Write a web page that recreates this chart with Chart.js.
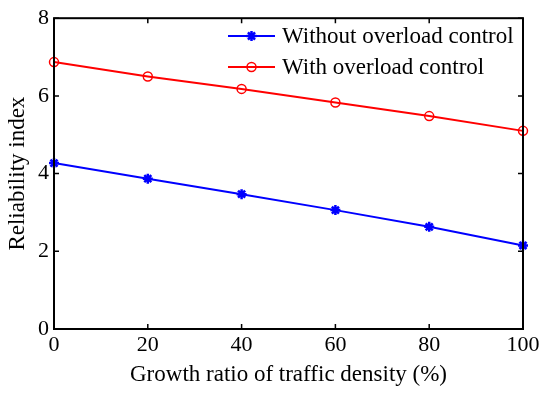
<!DOCTYPE html>
<html>
<head>
<meta charset="utf-8">
<script src="https://cdn.jsdelivr.net/npm/chart.js@4"></script>
<style>
  html, body { margin: 0; padding: 0; background: #fff; }
  #wrap { width: 550px; height: 395px; }
</style>
</head>
<body>
<div id="wrap"><canvas id="reliabilityChart" width="550" height="395"></canvas></div>
<script>
// data
var growthRatio = [0, 20, 40, 60, 80, 100];
var withoutControl = [4.27, 3.87, 3.47, 3.06, 2.63, 2.15];
var withControl = [6.87, 6.50, 6.18, 5.83, 5.48, 5.10];
var xTicks = [0, 20, 40, 60, 80, 100];
var yTicks = [0, 2, 4, 6, 8];

var FONT = '"Liberation Serif", "Times New Roman", serif';

function toPoints(xs, ys) {
    return xs.map(function(x, i) { return { x: x, y: ys[i] }; });
}

// MATLAB style box, inward ticks and legend
var matlabFrame = {
    id: 'matlabFrame',
    afterDraw: function(chart) {
        var ctx = chart.ctx;
        var a = chart.chartArea;
        var xs = chart.scales.x, ys = chart.scales.y;
        ctx.save();
        ctx.strokeStyle = '#000';
        ctx.lineWidth = 2;
        ctx.strokeRect(a.left, a.top, a.right - a.left, a.bottom - a.top);
        ctx.lineWidth = 1.5;
        ctx.beginPath();
        xTicks.forEach(function(v) {
            var px = xs.getPixelForValue(v);
            ctx.moveTo(px, a.bottom); ctx.lineTo(px, a.bottom - 5);
            ctx.moveTo(px, a.top); ctx.lineTo(px, a.top + 5);
        });
        yTicks.forEach(function(v) {
            var py = ys.getPixelForValue(v);
            ctx.moveTo(a.left, py); ctx.lineTo(a.left + 5, py);
            ctx.moveTo(a.right, py); ctx.lineTo(a.right - 5, py);
        });
        ctx.stroke();

        // legend
        var items = chart.data.datasets;
        var lx0 = 228, lx1 = 275, tx = 282;
        var rows = [36, 67];
        ctx.font = '23px ' + FONT;
        ctx.textBaseline = 'middle';
        ctx.textAlign = 'left';
        items.forEach(function(ds, i) {
            var y = rows[i];
            ctx.strokeStyle = ds.borderColor;
            ctx.lineWidth = 2;
            ctx.beginPath();
            ctx.moveTo(lx0, y); ctx.lineTo(lx1, y);
            ctx.stroke();
            ctx.fillStyle = ds.backgroundColor;
            ctx.strokeStyle = ds.pointBorderColor;
            ctx.lineWidth = ds.pointBorderWidth;
            Chart.helpers.drawPoint(ctx, {
                pointStyle: ds.pointStyle,
                radius: ds.pointRadius,
                borderWidth: ds.pointBorderWidth
            }, (lx0 + lx1) / 2, y);
            ctx.fillStyle = '#000';
            ctx.fillText(ds.label, tx, y + 1);
        });
        ctx.restore();
    }
};

document.addEventListener('DOMContentLoaded', function() {
    var canvas = document.getElementById('reliabilityChart');
    var ctx = canvas.getContext('2d');
    new Chart(ctx, {
        type: 'line',
        data: {
            datasets: [{
                label: 'Without overload control',
                data: toPoints(growthRatio, withoutControl),
                borderColor: 'rgb(0, 0, 255)',
                backgroundColor: 'rgb(0, 0, 255)',
                pointBorderColor: 'rgb(0, 0, 255)',
                borderWidth: 2,
                pointStyle: 'star',
                pointRadius: 5,
                pointBorderWidth: 2.5
            }, {
                label: 'With overload control',
                data: toPoints(growthRatio, withControl),
                borderColor: 'rgb(255, 0, 0)',
                backgroundColor: 'rgba(0, 0, 0, 0)',
                pointBorderColor: 'rgb(255, 0, 0)',
                borderWidth: 2,
                pointStyle: 'circle',
                pointRadius: 4.5,
                pointBorderWidth: 1.5
            }]
        },
        options: {
            responsive: false,
            animation: false,
            clip: false,
            layout: { padding: { top: 13, right: 27, left: 0, bottom: 0 } },
            plugins: {
                legend: { display: false },
                tooltip: { enabled: false }
            },
            scales: {
                x: {
                    type: 'linear',
                    min: 0,
                    max: 100,
                    afterBuildTicks: function(scale) {
                        scale.ticks = xTicks.map(function(v) { return { value: v }; });
                    },
                    afterFit: function(scale) { scale.height = 66; },
                    grid: { display: false, drawTicks: false },
                    border: { display: false },
                    ticks: {
                        color: '#000',
                        padding: 3,
                        maxRotation: 0,
                        font: { family: FONT, size: 22 }
                    },
                    title: {
                        display: true,
                        text: 'Growth ratio of traffic density (%)',
                        color: '#000',
                        padding: { top: 0, bottom: 6 },
                        font: { family: FONT, size: 23 }
                    }
                },
                y: {
                    type: 'linear',
                    min: 0,
                    max: 8,
                    afterBuildTicks: function(scale) {
                        scale.ticks = yTicks.map(function(v) { return { value: v }; });
                    },
                    afterFit: function(scale) { scale.width = 54; },
                    grid: { display: false, drawTicks: false },
                    border: { display: false },
                    ticks: {
                        color: '#000',
                        padding: 5,
                        font: { family: FONT, size: 22 }
                    },
                    title: {
                        display: true,
                        text: 'Reliability index',
                        color: '#000',
                        padding: { top: 4, bottom: 0 },
                        font: { family: FONT, size: 23 }
                    }
                }
            }
        },
        plugins: [matlabFrame]
    });
});
</script>
</body>
</html>
